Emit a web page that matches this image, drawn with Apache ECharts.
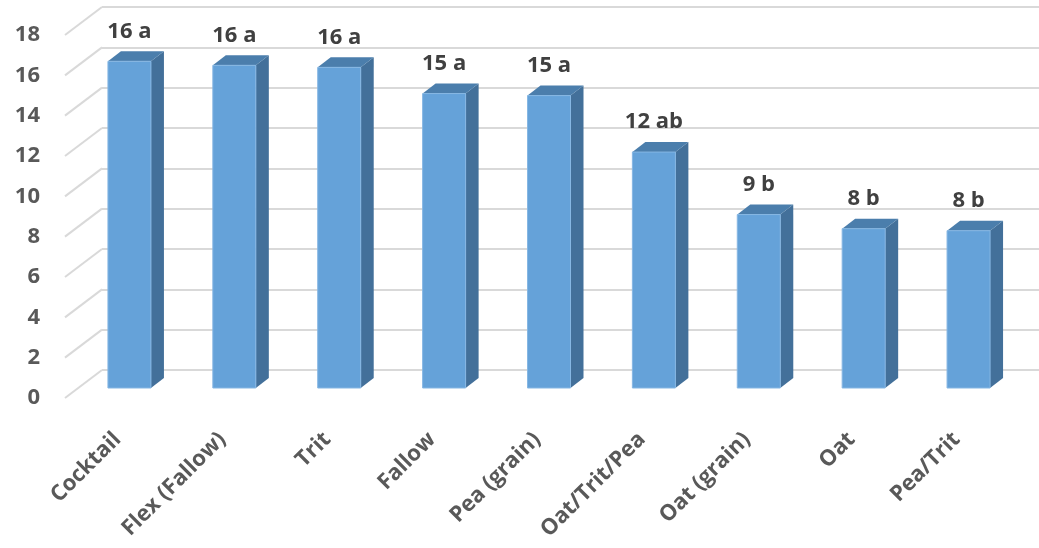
<!DOCTYPE html>
<html>
<head>
<meta charset="utf-8">
<script src="https://cdn.jsdelivr.net/npm/echarts@6/dist/echarts.min.js"></script>
<style>html,body{margin:0;padding:0;background:#fff;}#c{width:1039px;height:548px;}</style>
</head>
<body>
<div id="c"></div>
<script>
const categories = ['Cocktail','Flex (Fallow)','Trit','Fallow','Pea (grain)','Oat/Trit/Pea','Oat (grain)','Oat','Pea/Trit'];
const values = [16.2, 16.0, 15.9, 14.6, 14.5, 11.7, 8.6, 7.9, 7.8];
const valueLabels = ['16 a','16 a','16 a','15 a','15 a','12 ab','9 b','8 b','8 b'];
const yTicks = [0, 2, 4, 6, 8, 10, 12, 14, 16, 18];

const FONT = '"Open Sans", "Liberation Sans", sans-serif';
const chart = echarts.init(document.getElementById('c'), null, {renderer: 'canvas'});

// 3D offsets (pixels) relative to the bar-front plane
const BACK = [25, -18];   // back wall
const FRONT = [-12, 10];  // front plane
const DEPTH = [13, -10];  // bar depth

chart.setOption({
  animation: false,
  backgroundColor: '#ffffff',
  grid: [
    {left: 77, right: 18, top: 25, bottom: 160},     // bar front plane
    {left: 102, right: 0, top: 7, bottom: 178},      // back wall
    {left: 65, right: 30, top: 35, bottom: 150}      // front plane (axis labels)
  ],
  xAxis: [
    {type: 'category', gridIndex: 0, data: categories, show: false},
    {type: 'category', gridIndex: 1, data: categories, show: false},
    {type: 'category', gridIndex: 2, data: categories,
     axisLine: {show: false}, axisTick: {show: false},
     axisLabel: {rotate: 45, margin: 38, interval: 0, color: '#595959',
                 fontFamily: FONT, fontSize: 22, fontWeight: 'bold'}}
  ],
  yAxis: [
    {type: 'value', gridIndex: 0, min: 0, max: 18, interval: 2, show: false},
    {type: 'value', gridIndex: 1, min: 0, max: 18, interval: 2,
     axisLine: {show: false}, axisTick: {show: false}, axisLabel: {show: false},
     splitLine: {show: true, lineStyle: {color: '#D9D9D9', width: 2}}},
    {type: 'value', gridIndex: 2, min: 0, max: 18, interval: 2,
     axisLine: {show: false}, axisTick: {show: false}, splitLine: {show: false},
     axisLabel: {margin: 25, color: '#595959', fontFamily: FONT, fontSize: 22, fontWeight: 'bold'}}
  ],
  series: [
    {
      type: 'custom', xAxisIndex: 0, yAxisIndex: 0, z: 1,
      data: yTicks.map(v => [0, v]),
      renderItem: function (params, api) {
        const p = api.coord([0, api.value(1)]);
        const bw = api.size([1, 0])[0];
        const L = p[0] - bw / 2;
        return {
          type: 'line',
          shape: {x1: L + FRONT[0], y1: p[1] + FRONT[1], x2: L + BACK[0], y2: p[1] + BACK[1]},
          style: {stroke: '#D9D9D9', lineWidth: 2}
        };
      }
    },
    {
      type: 'custom', xAxisIndex: 0, yAxisIndex: 0, z: 5,
      data: values.map((v, i) => [i, v]),
      renderItem: function (params, api) {
        const i = api.value(0), v = api.value(1);
        const top = api.coord([i, v]);
        const bot = api.coord([i, 0]);
        const w = 43;
        const x0 = top[0] - w / 2, x1 = top[0] + w / 2;
        const yT = top[1], yB = bot[1];
        const dx = DEPTH[0], dy = DEPTH[1];
        return {
          type: 'group',
          children: [
            {type: 'polygon', shape: {points: [[x1, yT], [x1 + dx, yT + dy], [x1 + dx, yB + dy], [x1, yB]]},
             style: {fill: '#43709A'}},
            {type: 'polygon', shape: {points: [[x0, yT], [x0 + dx, yT + dy], [x1 + dx, yT + dy], [x1, yT]]},
             style: {fill: '#4B7EAC'}},
            {type: 'rect', shape: {x: x0, y: yT, width: w, height: yB - yT},
             style: {fill: '#65A2D9', stroke: '#86B7E3', lineWidth: 1}},
            {type: 'text', x: top[0], y: yT - 30,
             style: {text: valueLabels[i], fill: '#404040', font: 'bold 22px ' + FONT,
                     align: 'center', verticalAlign: 'middle'}}
          ]
        };
      }
    }
  ]
});
</script>
</body>
</html>
